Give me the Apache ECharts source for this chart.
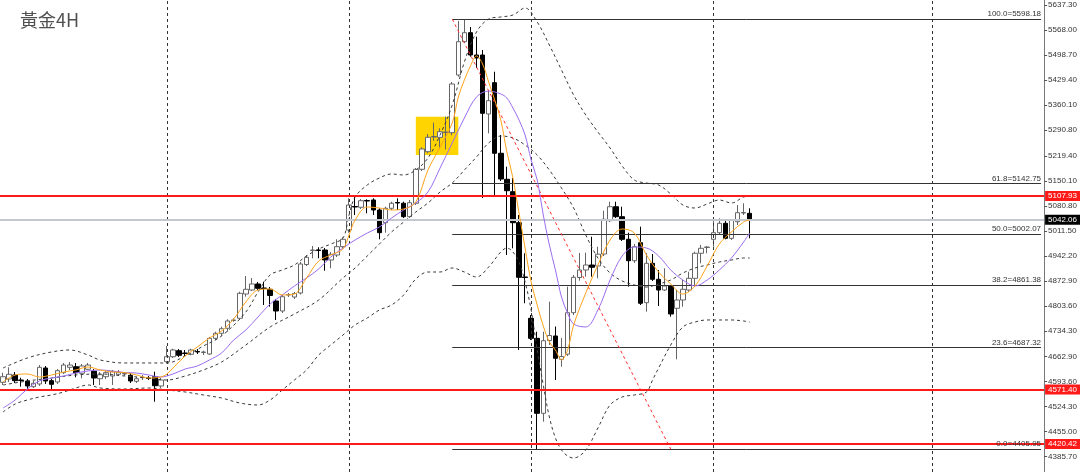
<!DOCTYPE html>
<html><head><meta charset="utf-8">
<script src="https://cdn.jsdelivr.net/npm/echarts@6/dist/echarts.min.js"></script>
<style>html,body{margin:0;padding:0;background:#fff}#c{width:1080px;height:472px}</style>
</head><body><div id="c"></div>
<script>
const chartTitle = '黃金4H';
const slotCount = 172; // bars + empty future slots
const opens = [4591.5,4600.6,4611.7,4597.8,4595.1,4579.3,4586.8,4631.1,4595.9,4592.3,4618.1,4633.0,4634.7,4616.4,4627.5,4622.0,4601.4,4607.0,4608.9,4613.6,4614.5,4610.9,4594.2,4604.2,4603.4,4607.0,4581.2,4648.6,4662.4,4679.1,4672.7,4669.1,4676.8,4674.1,4669.9,4713.4,4727.3,4741.2,4762.8,4768.9,4836.2,4847.3,4864.0,4852.9,4849.3,4816.8,4789.1,4833.5,4827.9,4839.0,4918.0,4956.8,4958.2,4958.2,4930.5,4944.3,4967.4,5013.6,5078.8,5076.6,5095.4,5096.8,5069.1,5033.9,5073.8,5089.9,5087.7,5050.5,5087.7,5181.9,5230.7,5271.4,5270.6,5283.9,5283.4,5443.3,5535.6,5560.6,5498.7,5498.7,5335.2,5422.0,5226.3,5154.2,5119.8,5033.9,4883.4,4768.9,4713.4,4505.5,4707.3,4719.8,4655.2,4669.4,4784.4,4882.0,4902.8,4916.6,4913.8,4947.1,5039.4,5078.2,5050.5,4987.9,4928.5,4978.4,4812.1,4921.3,4877.0,4847.3,4858.4,4796.6,4819.6,4847.3,4879.7,4949.1,4965.1,4987.9,5006.2,5032.2,4990.6,5036.6,5060.8,5059.9];
const closes = [4607.0,4613.6,4595.9,4596.5,4581.2,4588.7,4633.0,4595.1,4585.9,4623.6,4639.4,4639.4,4618.1,4636.6,4639.4,4603.4,4612.5,4618.1,4620.8,4619.2,4615.9,4595.1,4601.4,4605.6,4602.0,4582.0,4597.8,4662.4,4681.0,4666.3,4671.3,4681.0,4675.5,4675.5,4713.4,4727.3,4740.0,4761.4,4764.2,4838.2,4849.3,4864.0,4852.0,4851.5,4832.1,4789.1,4828.7,4834.8,4837.6,4919.4,4938.0,4958.2,4956.8,4930.5,4946.3,4967.4,4987.9,5082.9,5077.4,5094.9,5094.0,5069.1,5006.2,5073.8,5087.7,5088.5,5050.5,5089.3,5181.9,5238.2,5270.6,5272.8,5286.1,5285.3,5418.4,5535.6,5560.6,5498.7,5490.4,5337.1,5372.1,5226.3,5155.0,5122.6,5033.9,4882.5,4882.0,4713.4,4505.5,4706.8,4721.2,4658.0,4663.0,4784.4,4882.5,4902.8,4916.6,4910.3,4946.6,5043.3,5078.2,5050.5,4987.9,4928.5,4967.4,4810.5,4921.3,4877.0,4847.3,4858.4,4780.8,4819.6,4849.3,4879.7,4949.1,4962.9,4966.5,5006.2,5032.2,4990.6,5041.4,5061.6,5062.1,5042.06];
const highs = [4618.1,4633.0,4620.0,4604.2,4600.6,4595.1,4639.4,4636.6,4600.6,4628.3,4645.0,4647.7,4645.0,4642.2,4645.0,4628.3,4620.0,4622.8,4625.6,4625.6,4620.0,4617.2,4606.2,4611.7,4608.9,4620.8,4603.4,4692.1,4684.6,4683.8,4681.0,4684.6,4683.8,4679.1,4717.0,4731.7,4745.6,4766.1,4768.9,4842.6,4886.1,4880.6,4869.5,4870.3,4855.6,4822.4,4833.5,4839.0,4841.8,4924.9,4944.3,4969.3,4965.7,4963.7,4952.7,4987.9,4993.4,5101.5,5110.7,5099.6,5098.7,5101.5,5073.8,5078.2,5092.1,5101.5,5092.1,5096.8,5185.5,5242.9,5279.8,5311.1,5295.6,5327.7,5423.9,5593.0,5598.18,5576.4,5549.5,5512.6,5401.7,5452.4,5277.0,5189.1,5157.8,5055.2,4949.1,4778.0,4731.7,4731.7,4814.9,4746.1,4714.3,4856.5,4888.9,4949.9,4950.7,4995.1,4967.4,5067.1,5092.1,5092.1,5078.2,5006.2,4974.8,5022.8,4949.9,4947.1,4902.8,4907.5,4861.2,4847.3,4875.0,4898.0,4953.5,4972.1,4969.3,5046.1,5046.1,5043.3,5043.3,5082.9,5087.7,5073.8];
const lows = [4584.0,4592.3,4589.5,4579.3,4572.9,4575.7,4581.2,4586.8,4570.1,4586.8,4614.5,4625.6,4605.3,4602.6,4625.6,4584.0,4584.0,4600.6,4584.0,4608.9,4608.9,4589.5,4589.5,4597.8,4597.8,4537.7,4575.7,4644.1,4658.8,4661.6,4664.4,4666.3,4669.9,4667.1,4667.1,4708.7,4719.8,4731.7,4759.4,4764.2,4828.7,4844.5,4847.3,4805.7,4801.0,4764.2,4783.6,4827.9,4822.4,4834.8,4913.8,4935.2,4935.2,4900.8,4907.5,4938.8,4963.7,5006.2,5055.2,5071.9,5059.9,5055.2,4987.9,5006.2,5069.1,5069.1,5046.9,5046.9,5082.9,5177.2,5226.3,5261.2,5240.1,5237.3,5276.2,5438.6,5532.0,5494.0,5462.7,5102.3,5281.7,5110.7,5149.5,4944.3,4962.9,4681.0,4810.5,4708.7,4405.95,4482.3,4694.9,4597.8,4634.7,4664.4,4778.0,4873.1,4884.2,4884.2,4879.7,4941.6,5035.8,5046.9,4983.1,4856.5,4922.2,4805.7,4787.2,4872.3,4803.0,4844.5,4773.3,4655.2,4801.0,4841.8,4861.2,4921.3,4949.1,4967.4,5002.6,4987.9,4985.9,5027.5,5055.2,4990.6];

// indicator lines: [bar index, price]
const fastMA = [[0,4592.3],[2,4611.7],[4,4614.5],[6,4606.2],[8,4611.7],[10,4620.0],[12,4625.6],[14,4633.9],[16,4625.6],[18,4620.0],[20,4618.6],[22,4611.7],[24,4603.4],[26,4606.2],[27,4614.5],[28,4631.1],[30,4664.4],[32,4689.3],[34,4714.3],[36,4733.7],[38,4767.0],[40,4814.1],[42,4847.3],[44,4850.1],[46,4833.5],[48,4836.2],[50,4880.6],[52,4927.7],[54,4944.3],[56,4961.0],[57,4999.8],[58,5041.4],[60,5077.4],[62,5074.6],[64,5069.1],[66,5071.9],[68,5091.3],[70,5179.9],[72,5243.7],[74,5310.2],[75,5382.3],[76,5429.4],[77,5468.2],[78,5496.0],[79,5473.8],[80,5423.9],[81,5374.0],[82,5318.6],[83,5229.9],[84,5157.8],[85,5060.8],[86,4963.7],[87,4869.5],[88,4805.7],[89,4747.5],[90,4703.2],[91,4681.0],[92,4653.3],[93,4681.0],[94,4750.3],[96,4839.0],[98,4916.6],[100,4985.9],[102,5016.4],[104,5005.3],[106,4944.3],[108,4897.2],[110,4864.0],[112,4836.2],[114,4858.4],[116,4913.8],[118,4974.8],[120,5008.1],[122,5035.8],[123,5041.4]];
const slowMA = [[0,4520.2],[2,4542.4],[4,4572.9],[6,4595.1],[8,4603.4],[10,4608.9],[12,4617.2],[14,4622.8],[16,4625.6],[18,4622.8],[20,4618.6],[22,4617.2],[24,4611.7],[26,4606.2],[28,4614.5],[30,4628.3],[32,4636.6],[34,4653.3],[36,4672.7],[38,4708.7],[40,4736.4],[42,4772.5],[44,4808.5],[46,4833.5],[48,4858.4],[50,4880.6],[52,4905.5],[54,4938.8],[56,4963.7],[58,4985.9],[60,5005.3],[62,5022.0],[64,5046.9],[66,5069.1],[68,5088.5],[70,5119.0],[72,5185.5],[74,5254.8],[76,5324.1],[78,5382.3],[80,5398.9],[82,5390.6],[83,5379.5],[84,5351.8],[85,5318.6],[86,5277.0],[87,5207.7],[88,5152.2],[89,5055.2],[90,4972.1],[91,4902.8],[92,4827.9],[93,4783.6],[94,4753.1],[96,4744.8],[98,4791.9],[100,4875.0],[102,4941.6],[104,4966.5],[106,4963.7],[108,4941.6],[110,4902.8],[112,4875.0],[114,4858.4],[116,4875.0],[118,4902.8],[120,4936.0],[122,4980.4],[123,5005.3]];
const bandUpper = [[0,4631.1],[4,4658.8],[8,4675.5],[11,4681.0],[14,4667.1],[16,4653.3],[20,4645.0],[24,4645.0],[27,4645.0],[30,4664.4],[33,4692.1],[36,4719.8],[40,4786.3],[42,4841.8],[44,4888.9],[46,4902.8],[48,4916.6],[50,4941.6],[52,4961.0],[54,4974.8],[56,4991.5],[57,5055.2],[58,5105.1],[60,5138.4],[62,5157.8],[64,5168.9],[66,5166.1],[68,5179.9],[70,5213.2],[72,5277.0],[74,5360.1],[76,5479.3],[78,5562.5],[80,5598.5],[82,5604.1],[84,5609.6],[86,5629.0],[88,5590.2],[90,5526.5],[92,5457.2],[94,5387.9],[96,5332.4],[98,5285.3],[100,5240.9],[102,5191.0],[104,5152.2],[106,5143.9],[108,5138.4],[110,5113.4],[112,5082.9],[114,5074.6],[116,5085.7],[118,5096.8],[120,5088.5],[122,5105.1],[123,5107.9]];
const bandMiddle = [[0,4584.0],[4,4595.1],[8,4603.4],[12,4611.7],[16,4614.5],[20,4608.9],[24,4603.4],[27,4597.8],[30,4608.9],[33,4625.6],[36,4647.7],[40,4694.9],[44,4744.8],[48,4780.8],[52,4819.6],[56,4880.6],[58,4908.3],[60,4941.6],[62,4974.8],[64,5008.1],[66,5035.8],[68,5063.5],[70,5088.5],[72,5119.0],[74,5143.9],[76,5179.9],[78,5216.0],[80,5254.8],[82,5274.2],[84,5268.7],[86,5249.3],[88,5221.5],[90,5179.9],[92,5130.1],[94,5074.6],[96,4999.8],[98,4936.0],[100,4894.4],[102,4872.3],[104,4861.2],[106,4855.6],[108,4864.0],[110,4875.0],[112,4894.4],[114,4908.3],[116,4916.6],[118,4924.9],[120,4930.5],[122,4936.0],[123,4936.0]];
const bandLower = [[0,4509.1],[2,4531.3],[4,4542.4],[6,4550.7],[8,4556.3],[10,4564.6],[12,4575.7],[14,4584.0],[16,4575.7],[20,4572.9],[24,4575.7],[27,4570.1],[30,4564.6],[33,4556.3],[36,4547.9],[39,4534.1],[42,4528.5],[44,4542.4],[46,4570.1],[48,4597.8],[50,4625.6],[52,4667.1],[54,4694.9],[56,4722.6],[58,4750.3],[60,4769.7],[62,4791.9],[64,4805.7],[66,4833.5],[68,4877.8],[70,4897.2],[72,4897.2],[74,4908.3],[76,4897.2],[78,4883.4],[80,4911.1],[82,4952.7],[83,4963.7],[84,4952.7],[85,4924.9],[86,4869.5],[87,4791.9],[88,4681.0],[89,4584.0],[90,4495.3],[91,4437.1],[92,4403.8],[93,4387.2],[94,4381.6],[96,4403.8],[98,4464.8],[100,4528.5],[102,4550.7],[104,4556.3],[106,4564.6],[107,4597.8],[108,4631.1],[110,4694.9],[112,4744.8],[114,4758.6],[116,4764.2],[118,4764.2],[120,4764.2],[122,4761.4],[123,4758.6]];

const yTickLabels = [5637.30,5568.00,5498.70,5429.40,5360.10,5290.80,5219.40,5150.10,5080.80,5011.50,4942.20,4872.90,4803.60,4734.30,4662.90,4593.60,4524.30,4455.00,4385.70];
const fibLevels = ['100.0','61.8','50.0','38.2','23.6','0.0'];
const fibPrices = [5598.18,5142.75,5002.07,4861.38,4687.32,4405.95];
const fibStartBar = 74, fibEndBar = 171;
const fibTrend = [[74,5598.18],[110,4405.95]];
const redLevels = [5107.93,4571.40,4420.42];
const lastPrice = 5042.06;
const separatorBars = [27,57,87,117,153];
const boxBars = [68,75];
const boxPrices = [5327.7,5221.5];
const yMin = 4342.8, yMax = 5651.2;

const categories = Array.from({length: slotCount}, (_, i) => String(i));
const candles = opens.map((o, i) => [o, closes[i], lows[i], highs[i]]);

const chart = echarts.init(document.getElementById('c'), null, {renderer: 'canvas'});
const axisFont = 'Liberation Sans';
const lineSeries = (name, data, color, dashed, z) => ({
  name, type: 'line', data, showSymbol: false, smooth: 0.35, z,
  lineStyle: {color, width: 1, type: dashed ? [3, 3] : 'solid'},
  emphasis: {disabled: true}, silent: true
});

chart.setOption({
  animation: false,
  backgroundColor: '#ffffff',
  grid: {left: 0, right: 33, top: 0, bottom: 0},
  graphic: [{type: 'text', left: 20, top: 11, style: {text: chartTitle, fontSize: 18, fill: '#505050', fontFamily: 'Noto Sans CJK TC'}}],
  xAxis: {type: 'category', data: categories, boundaryGap: true, show: false},
  yAxis: {
    type: 'value', position: 'right', min: yMin, max: yMax, scale: true,
    splitLine: {show: false},
    axisLine: {show: true, lineStyle: {color: '#777', width: 1}},
    axisTick: {show: true, length: 3, customValues: yTickLabels, lineStyle: {color: '#555'}},
    axisLabel: {customValues: yTickLabels, formatter: v => v.toFixed(2), color: '#333', fontSize: 8, fontFamily: axisFont, margin: 4}
  },
  series: [
    {
      type: 'line', data: [], z: 0, silent: true,
      markArea: {silent: true, itemStyle: {color: '#ffd400', opacity: 1},
        data: [[{coord: [boxBars[0], boxPrices[0]]}, {coord: [boxBars[1], boxPrices[1]]}]]}
    },
    {
      type: 'line', data: [], z: 1, silent: true,
      markLine: {silent: true, symbol: 'none', animation: false,
        lineStyle: {color: '#333', width: 1, type: [3, 3]}, label: {show: false},
        data: separatorBars.map(b => ({xAxis: String(b)}))}
    },
    {
      type: 'candlestick', data: candles, barWidth: 5, z: 3, silent: true,
      itemStyle: {color: '#ffffff', color0: '#000000', borderColor: '#666666', borderColor0: '#000000', borderWidth: 1}
    },
    lineSeries('upper', bandUpper, '#3a3a3a', true, 4),
    lineSeries('middle', bandMiddle, '#3a3a3a', true, 4),
    lineSeries('lower', bandLower, '#3a3a3a', true, 4),
    lineSeries('slow', slowMA, '#9b6cf0', false, 5),
    lineSeries('fast', fastMA, '#ffa31a', false, 6),
    {
      type: 'line', data: [], z: 7, silent: true,
      markLine: {silent: true, symbol: 'none', animation: false,
        data: [
          ...fibPrices.map((p, k) => [
            {coord: [fibStartBar, p], lineStyle: {color: '#333', width: 1, type: 'solid'},
             label: {show: true, position: 'insideEndTop', distance: [0, 1], formatter: fibLevels[k] + '=' + p.toFixed(2), color: '#333', fontSize: 8, fontFamily: axisFont}},
            {coord: [fibEndBar, p]}
          ]),
          [{coord: fibTrend[0], lineStyle: {color: '#ff3030', width: 1, type: [3, 3]}, label: {show: false}}, {coord: fibTrend[1]}],
          {yAxis: lastPrice, lineStyle: {color: '#c3c8d0', width: 2, type: 'solid'},
           label: {show: true, position: 'end', distance: 1, formatter: lastPrice.toFixed(2), color: '#fff', backgroundColor: '#000', padding: [1, 3, 1, 3], fontSize: 8, fontFamily: axisFont}},
          ...redLevels.map(p => ({yAxis: p, lineStyle: {color: '#ff1a1a', width: 2, type: 'solid'},
           label: {show: true, position: 'end', distance: 1, formatter: p.toFixed(2), color: '#fff', backgroundColor: '#ff1a1a', padding: [1, 3, 1, 3], fontSize: 8, fontFamily: axisFont}}))
        ]}
    }
  ]
});
</script>
</body></html>
